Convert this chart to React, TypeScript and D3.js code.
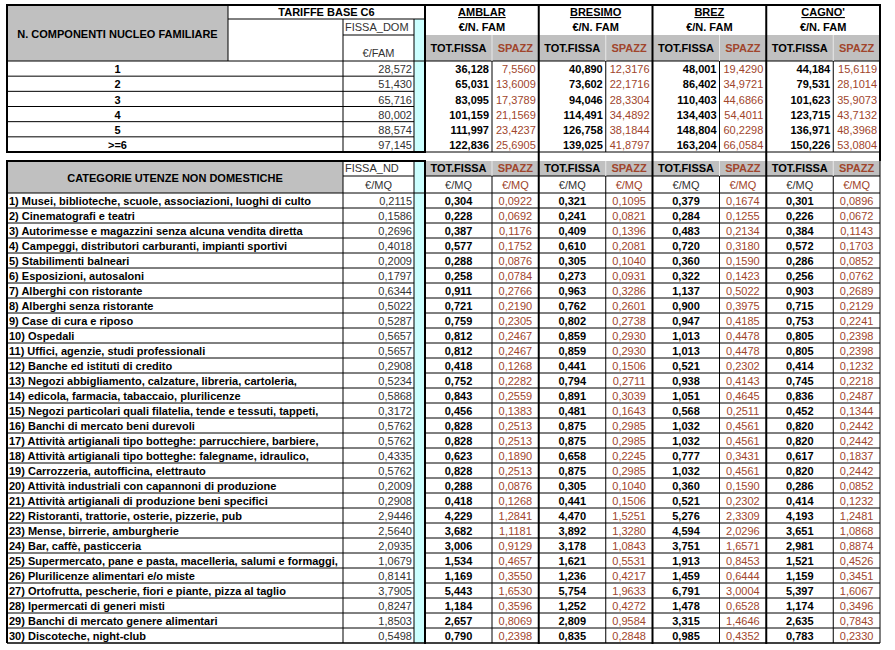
import { select, scaleBand, formatLocale } from "d3";
import React, { useEffect, useRef } from "react";

// comuni e nuclei familiari
const municipalities = ["AMBLAR", "BRESIMO", "BREZ", "CAGNO'"];
const familySizes = ["1", "2", "3", "4", "5", ">=6"];
const fissaDom = [28.572, 51.43, 65.716, 80.002, 88.574, 97.145];

const amblarDomTot = [36.128, 65.031, 83.095, 101.159, 111.997, 122.836];
const amblarDomSpazz = [7.556, 13.6009, 17.3789, 21.1569, 23.4237, 25.6905];
const bresimoDomTot = [40.89, 73.602, 94.046, 114.491, 126.758, 139.025];
const bresimoDomSpazz = [12.3176, 22.1716, 28.3304, 34.4892, 38.1844, 41.8797];
const brezDomTot = [48.001, 86.402, 110.403, 134.403, 148.804, 163.204];
const brezDomSpazz = [19.429, 34.9721, 44.6866, 54.4011, 60.2298, 66.0584];
const cagnoDomTot = [44.184, 79.531, 101.623, 123.715, 136.971, 150.226];
const cagnoDomSpazz = [15.6119, 28.1014, 35.9073, 43.7132, 48.3968, 53.0804];

// utenze non domestiche
const categories = [
  "1) Musei, biblioteche, scuole, associazioni, luoghi di culto",
  "2) Cinematografi e teatri",
  "3) Autorimesse e magazzini senza alcuna vendita diretta",
  "4) Campeggi, distributori carburanti, impianti sportivi",
  "5) Stabilimenti balneari",
  "6) Esposizioni, autosaloni",
  "7) Alberghi con ristorante",
  "8) Alberghi senza ristorante",
  "9) Case di cura e riposo",
  "10) Ospedali",
  "11) Uffici, agenzie, studi professionali",
  "12) Banche ed istituti di credito",
  "13) Negozi abbigliamento, calzature, libreria, cartoleria,",
  "14) edicola, farmacia, tabaccaio, plurilicenze",
  "15) Negozi particolari quali filatelia, tende e tessuti, tappeti,",
  "16) Banchi di mercato beni durevoli",
  "17) Attività artigianali tipo botteghe: parrucchiere, barbiere,",
  "18) Attività artigianali tipo botteghe: falegname, idraulico,",
  "19) Carrozzeria, autofficina, elettrauto",
  "20) Attività industriali con capannoni di produzione",
  "21) Attività artigianali di produzione beni specifici",
  "22) Ristoranti, trattorie, osterie, pizzerie, pub",
  "23) Mense, birrerie, amburgherie",
  "24) Bar, caffè, pasticceria",
  "25) Supermercato, pane e pasta, macelleria, salumi e formaggi,",
  "26) Plurilicenze alimentari e/o miste",
  "27) Ortofrutta, pescherie, fiori e piante, pizza al taglio",
  "28) Ipermercati di generi misti",
  "29) Banchi di mercato genere alimentari",
  "30) Discoteche, night-club",
];
const fissaNd = [
  0.2115, 0.1586, 0.2696, 0.4018, 0.2009, 0.1797, 0.6344, 0.5022, 0.5287, 0.5657,
  0.5657, 0.2908, 0.5234, 0.5868, 0.3172, 0.5762, 0.5762, 0.4335, 0.5762, 0.2009,
  0.2908, 2.9446, 2.564, 2.0935, 1.0679, 0.8141, 3.7905, 0.8247, 1.8503, 0.5498,
];
const amblarNdTot = [
  0.304, 0.228, 0.387, 0.577, 0.288, 0.258, 0.911, 0.721, 0.759, 0.812,
  0.812, 0.418, 0.752, 0.843, 0.456, 0.828, 0.828, 0.623, 0.828, 0.288,
  0.418, 4.229, 3.682, 3.006, 1.534, 1.169, 5.443, 1.184, 2.657, 0.79,
];
const amblarNdSpazz = [
  0.0922, 0.0692, 0.1176, 0.1752, 0.0876, 0.0784, 0.2766, 0.219, 0.2305, 0.2467,
  0.2467, 0.1268, 0.2282, 0.2559, 0.1383, 0.2513, 0.2513, 0.189, 0.2513, 0.0876,
  0.1268, 1.2841, 1.1181, 0.9129, 0.4657, 0.355, 1.653, 0.3596, 0.8069, 0.2398,
];
const bresimoNdTot = [
  0.321, 0.241, 0.409, 0.61, 0.305, 0.273, 0.963, 0.762, 0.802, 0.859,
  0.859, 0.441, 0.794, 0.891, 0.481, 0.875, 0.875, 0.658, 0.875, 0.305,
  0.441, 4.47, 3.892, 3.178, 1.621, 1.236, 5.754, 1.252, 2.809, 0.835,
];
const bresimoNdSpazz = [
  0.1095, 0.0821, 0.1396, 0.2081, 0.104, 0.0931, 0.3286, 0.2601, 0.2738, 0.293,
  0.293, 0.1506, 0.2711, 0.3039, 0.1643, 0.2985, 0.2985, 0.2245, 0.2985, 0.104,
  0.1506, 1.5251, 1.328, 1.0843, 0.5531, 0.4217, 1.9633, 0.4272, 0.9584, 0.2848,
];
const brezNdTot = [
  0.379, 0.284, 0.483, 0.72, 0.36, 0.322, 1.137, 0.9, 0.947, 1.013,
  1.013, 0.521, 0.938, 1.051, 0.568, 1.032, 1.032, 0.777, 1.032, 0.36,
  0.521, 5.276, 4.594, 3.751, 1.913, 1.459, 6.791, 1.478, 3.315, 0.985,
];
const brezNdSpazz = [
  0.1674, 0.1255, 0.2134, 0.318, 0.159, 0.1423, 0.5022, 0.3975, 0.4185, 0.4478,
  0.4478, 0.2302, 0.4143, 0.4645, 0.2511, 0.4561, 0.4561, 0.3431, 0.4561, 0.159,
  0.2302, 2.3309, 2.0296, 1.6571, 0.8453, 0.6444, 3.0004, 0.6528, 1.4646, 0.4352,
];
const cagnoNdTot = [
  0.301, 0.226, 0.384, 0.572, 0.286, 0.256, 0.903, 0.715, 0.753, 0.805,
  0.805, 0.414, 0.745, 0.836, 0.452, 0.82, 0.82, 0.617, 0.82, 0.286,
  0.414, 4.193, 3.651, 2.981, 1.521, 1.159, 5.397, 1.174, 2.635, 0.783,
];
const cagnoNdSpazz = [
  0.0896, 0.0672, 0.1143, 0.1703, 0.0852, 0.0762, 0.2689, 0.2129, 0.2241, 0.2398,
  0.2398, 0.1232, 0.2218, 0.2487, 0.1344, 0.2442, 0.2442, 0.1837, 0.2442, 0.0852,
  0.1232, 1.2481, 1.0868, 0.8874, 0.4526, 0.3451, 1.6067, 0.3496, 0.7843, 0.233,
];

const domTot = [amblarDomTot, bresimoDomTot, brezDomTot, cagnoDomTot];
const domSpazz = [amblarDomSpazz, bresimoDomSpazz, brezDomSpazz, cagnoDomSpazz];
const ndTot = [amblarNdTot, bresimoNdTot, brezNdTot, cagnoNdTot];
const ndSpazz = [amblarNdSpazz, bresimoNdSpazz, brezNdSpazz, cagnoNdSpazz];

const it = formatLocale({ decimal: ",", thousands: ".", grouping: [3], currency: ["", "€"] });
const f3 = it.format(".3f");
const f4 = it.format(".4f");

const FONT = "'Liberation Sans', Arial, sans-serif";
const GRAY = "#c0c0c0";
const CYAN = "#ccffff";
const BROWN = "#a0452c";

const X0 = 7;
const XLAB = 228;
const XFISSA = 343;
const XCYAN = 414;
const XMUN = 425;
const XEND = 880;
const SPLIT = 67;

const Tariffe = ({ width = 895, height = 650 }) => {
  const svgRef = useRef(null);

  useEffect(() => {
    const svg = select(svgRef.current);
    svg.selectAll("*").remove();
    svg.attr("width", width).attr("height", height);
    svg.append("rect").attr("width", width).attr("height", height).attr("fill", "#fff");

    const xBlock = scaleBand().domain(municipalities).range([XMUN, XEND]);
    const bw = xBlock.bandwidth();
    const yDom = scaleBand().domain(familySizes).range([61, 152]);
    const yCat = scaleBand().domain(categories).range([193, 643]);
    const rhDom = yDom.bandwidth();
    const rhCat = yCat.bandwidth();

    const bg = svg.append("g");
    const txt = svg.append("g").attr("font-family", FONT).attr("font-size", 11);
    const lines = svg.append("g");

    const rect = (x1, y1, x2, y2, fill) =>
      bg.append("rect").attr("x", x1).attr("y", y1).attr("width", x2 - x1).attr("height", y2 - y1).attr("fill", fill);
    const line = (x1, y1, x2, y2, w = 1, c = "#000") =>
      lines.append("line").attr("x1", x1).attr("y1", y1).attr("x2", x2).attr("y2", y2)
        .attr("stroke", c).attr("stroke-width", w);
    const text = (x, y, s, anchor = "middle", bold = false, fill = "#000") =>
      txt.append("text").attr("x", x).attr("y", y).attr("text-anchor", anchor)
        .attr("font-weight", bold ? "bold" : "normal").attr("fill", fill).text(s);

    // ---------- tabella utenze domestiche ----------
    rect(X0, 5, XLAB, 61, GRAY);
    municipalities.forEach((m) => rect(xBlock(m), 35, xBlock(m) + bw, 61, GRAY));
    rect(XCYAN, 19, XMUN, 152, CYAN);

    text((X0 + XLAB) / 2, 38, "N. COMPONENTI NUCLEO FAMILIARE", "middle", true);
    text((XLAB + XMUN) / 2, 16, "TARIFFE BASE C6", "middle", true);
    text(XFISSA + 2, 31, "FISSA_DOM", "start", false, "#333");
    text((XFISSA + XCYAN) / 2, 57, "€/FAM", "middle", false, "#333");

    municipalities.forEach((m, i) => {
      const xb = xBlock(m);
      text(xb + bw / 2, 16, m, "middle", true).style("text-decoration", "underline");
      text(xb + bw / 2, 31, "€/N. FAM", "middle", true);
      text(xb + SPLIT / 2, 52, "TOT.FISSA", "middle", true);
      text(xb + SPLIT + (bw - SPLIT) / 2, 52, "SPAZZ", "middle", true, BROWN);
      familySizes.forEach((s, r) => {
        const yb = yDom(s) + rhDom - 3;
        text(xb + SPLIT - 3, yb, f3(domTot[i][r]), "end", true);
        text(xb + bw - 3, yb, f4(domSpazz[i][r]), "end", false, BROWN);
      });
    });

    familySizes.forEach((s, r) => {
      const yb = yDom(s) + rhDom - 3;
      text((X0 + XLAB) / 2, yb, s, "middle", true);
      text(XCYAN - 2, yb, f3(fissaDom[r]), "end", false, "#333");
    });

    line(XLAB, 19, XMUN, 19);
    line(XLAB, 5, XLAB, 61);
    line(XFISSA, 19, XFISSA, 152);
    line(XCYAN, 19, XCYAN, 152);
    line(XFISSA, 35, XCYAN, 35);
    line(X0, 61, XEND, 61);
    familySizes.slice(1).forEach((s) => line(X0, yDom(s), XCYAN, yDom(s)));
    municipalities.forEach((m) => {
      line(xBlock(m) + SPLIT, 35, xBlock(m) + SPLIT, 61, 1, "#e8e8e8");
      line(xBlock(m) + SPLIT, 61, xBlock(m) + SPLIT, 152);
    });
    line(XMUN, 152, XEND, 152);

    // ---------- tabella utenze non domestiche ----------
    rect(X0, 161, XFISSA, 193, GRAY);
    rect(XMUN, 161, XEND, 176, GRAY);
    rect(XCYAN, 161, XMUN, 643, CYAN);

    text((X0 + XFISSA) / 2, 182, "CATEGORIE UTENZE NON DOMESTICHE", "middle", true);
    text(XFISSA + 2, 172, "FISSA_ND", "start", false, "#333");
    text((XFISSA + XCYAN) / 2, 189, "€/MQ", "middle", false, "#333");

    municipalities.forEach((m, i) => {
      const xb = xBlock(m);
      const cT = xb + SPLIT / 2;
      const cS = xb + SPLIT + (bw - SPLIT) / 2;
      text(cT, 172, "TOT.FISSA", "middle", true);
      text(cS, 172, "SPAZZ", "middle", true, BROWN);
      text(cT, 189, "€/MQ", "middle", false, "#333");
      text(cS, 189, "€/MQ", "middle", false, BROWN);
      categories.forEach((c, r) => {
        const yb = yCat(c) + rhCat - 3.5;
        text(cT, yb, f3(ndTot[i][r]), "middle", true);
        text(cS, yb, f4(ndSpazz[i][r]), "middle", false, BROWN);
      });
    });

    categories.forEach((c, r) => {
      const yb = yCat(c) + rhCat - 3.5;
      text(X0 + 2, yb, c, "start", true);
      text(XCYAN - 2, yb, f4(fissaNd[r]), "end", false, "#333");
    });

    line(XFISSA, 161, XFISSA, 643);
    line(XCYAN, 161, XCYAN, 643);
    line(XFISSA, 176, XCYAN, 176);
    line(XMUN, 176, XEND, 176);
    line(X0, 193, XEND, 193);
    categories.slice(1).forEach((c) => {
      line(X0, yCat(c), XCYAN, yCat(c));
      line(XMUN, yCat(c), XEND, yCat(c));
    });
    municipalities.forEach((m) => {
      line(xBlock(m) + SPLIT, 161, xBlock(m) + SPLIT, 176, 1, "#e8e8e8");
      line(xBlock(m) + SPLIT, 176, xBlock(m) + SPLIT, 643);
    });
    line(XEND, 161, XEND, 643);
    line(X0, 643, XEND, 643, 1.5);

    // bordi spessi
    line(X0 - 1, 5, XEND + 1, 5, 2);
    line(X0, 5, X0, 152, 2);
    line(X0 - 1, 152, XMUN + 1, 152, 2);
    line(XMUN, 5, XMUN, 152, 2);
    line(X0 - 1, 161, XMUN + 1, 161, 2);
    line(X0, 161, X0, 643, 2);
    line(XMUN, 161, XMUN, 644, 2);
    municipalities.slice(1).forEach((m) => line(xBlock(m), 5, xBlock(m), 644, 2));
    line(XEND, 5, XEND, 161, 2);
  }, [width, height]);

  return <svg ref={svgRef} style={{ position: "absolute", left: 0, top: 0 }} />;
};

export default function App() {
  return <Tariffe />;
}
